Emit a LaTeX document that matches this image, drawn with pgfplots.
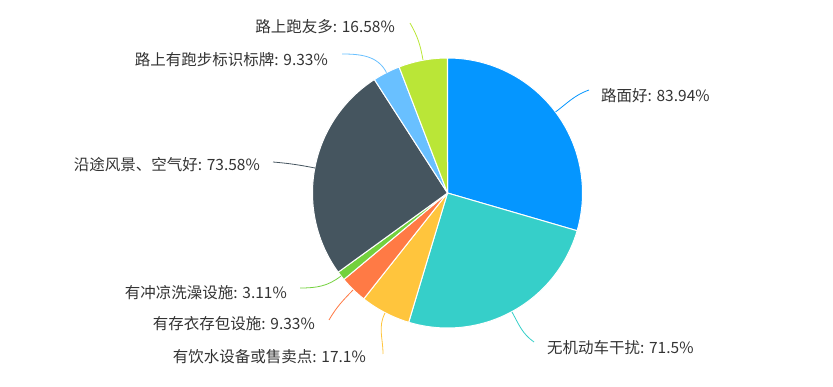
\documentclass[border=0pt]{standalone}
\usepackage{pgfplots}
\pgfplotsset{compat=1.18}
\usepackage{pgfplotstable}
\usepackage{fontspec}
\setmainfont{Noto Sans CJK SC}
\definecolor{c1}{HTML}{0596FF}
\definecolor{c2}{HTML}{36CFC9}
\definecolor{c3}{HTML}{FFC53D}
\definecolor{c4}{HTML}{FF7A45}
\definecolor{c5}{HTML}{73D13D}
\definecolor{c6}{HTML}{45555F}
\definecolor{c7}{HTML}{69C0FF}
\definecolor{c8}{HTML}{BAE637}
\definecolor{txt}{HTML}{333333}

\pgfplotstableread[col sep=comma]{
value,color
83.94,c1
71.5,c2
17.1,c3
9.33,c4
3.11,c5
73.58,c6
9.33,c7
16.58,c8
}\piedata

\begin{document}
\begin{tikzpicture}[font=\fontsize{15.5}{18}\selectfont]
\begin{axis}[hide axis, x=1pt, y=1pt, xmin=0, xmax=833, ymin=0, ymax=387,
  y dir=reverse, clip=false]
% total
\gdef\total{0}
\pgfplotsforeachungrouped \i in {0,...,7}{%
  \pgfplotstablegetelem{\i}{value}\of\piedata
  \pgfmathsetmacro\tmp{\total+\pgfplotsretval}%
  \global\let\total\tmp
}
\gdef\startang{90}
\pgfplotsforeachungrouped \i in {0,...,7}{%
  \pgfplotstablegetelem{\i}{value}\of\piedata \let\v\pgfplotsretval
  \pgfplotstablegetelem{\i}{color}\of\piedata \let\c\pgfplotsretval
  \pgfmathsetmacro\frac{\v/\total}%
  \pgfmathsetmacro\endang{\startang-360*\frac}%
  \edef\cmd{\noexpand\fill[\c, draw=white, line width=1pt, line join=round] (axis cs:447.5,193) -- ++(\startang:135pt) arc[start angle=\startang, end angle=\endang, radius=135pt] -- cycle;}%
  \cmd
  \global\let\startang\endang
}
% leader lines
\draw[c1, line width=0.8pt] (axis cs:555.5,112) to[out=37,in=200] (axis cs:589,90);
\draw[c2, line width=0.8pt] (axis cs:512,312) to[out=-61,in=145] (axis cs:534,342);
\draw[c3, line width=0.8pt] (axis cs:385,313) to[out=-117,in=90] (axis cs:383,354);
\draw[c4, line width=0.8pt] (axis cs:353,290) to[out=-134,in=60] (axis cs:329,320);
\draw[c5, line width=0.8pt] (axis cs:341,276) to[out=-142,in=0] (axis cs:300,288);
\draw[c6, line width=0.8pt] (axis cs:315,168) to[out=169,in=-5] (axis cs:273,162);
\draw[c7, line width=0.8pt] (axis cs:386.5,72.6) to[out=117,in=0] (axis cs:342,54);
\draw[c8, line width=0.8pt] (axis cs:423,60) to[out=100,in=-60] (axis cs:410,23);
% labels
\node[anchor=west, text=txt, inner sep=0pt] at (axis cs:601,96) {路面好: 83.94\%};
\node[anchor=west, text=txt, inner sep=0pt] at (axis cs:547,348) {无机动车干扰: 71.5\%};
\node[anchor=east, text=txt, inner sep=0pt] at (axis cs:366,357) {有饮水设备或售卖点: 17.1\%};
\node[anchor=east, text=txt, inner sep=0pt] at (axis cs:315,324) {有存衣存包设施: 9.33\%};
\node[anchor=east, text=txt, inner sep=0pt] at (axis cs:287,293) {有冲凉洗澡设施: 3.11\%};
\node[anchor=east, text=txt, inner sep=0pt] at (axis cs:260,165) {沿途风景、空气好: 73.58\%};
\node[anchor=east, text=txt, inner sep=0pt] at (axis cs:328,60) {路上有跑步标识标牌: 9.33\%};
\node[anchor=east, text=txt, inner sep=0pt] at (axis cs:395,27) {路上跑友多: 16.58\%};
\end{axis}
\pgfresetboundingbox
\path (0,0) rectangle (833pt,387pt);
\end{tikzpicture}
\end{document}
